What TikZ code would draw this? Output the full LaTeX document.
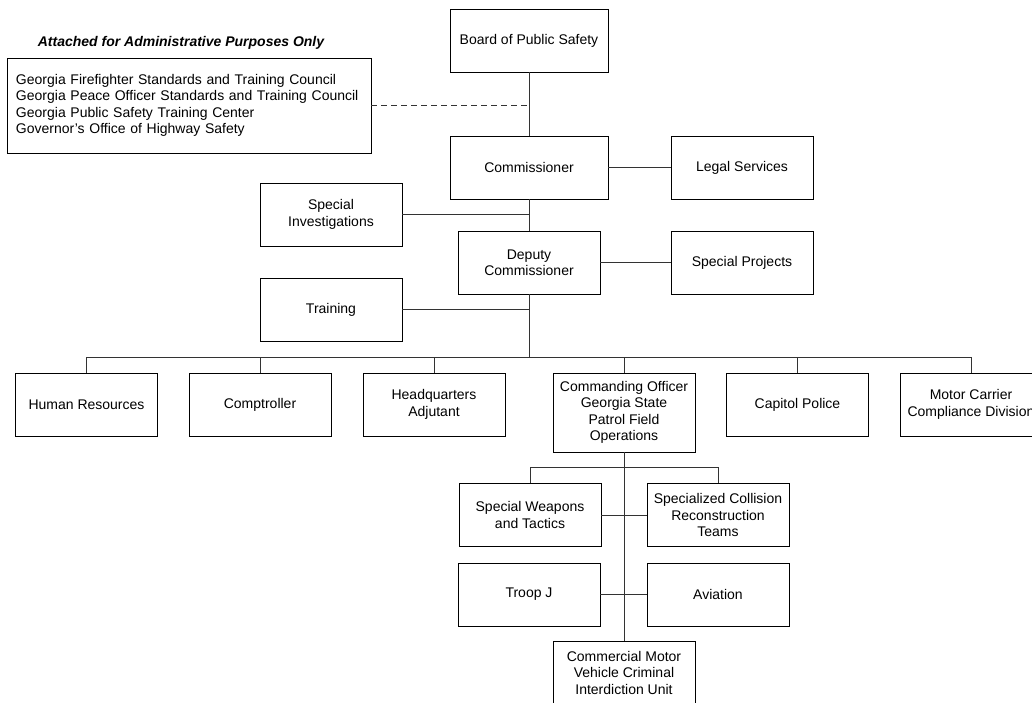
\documentclass[tikz,border=0pt]{standalone}
\usepackage{fontspec}
\setmainfont{Liberation Sans}
\usepackage{tikz}
\usetikzlibrary{positioning, calc}

\begin{document}
\begin{tikzpicture}[x=1pt, y=-1pt,
    unit/.style={draw=black, line width=0.9pt, minimum width=142pt, minimum height=63pt,
      align=center, inner sep=2pt, font=\fontsize{14}{16.5}\selectfont},
    wide/.style={unit, minimum width=158pt},
    link/.style={draw=black!80, line width=0.8pt}]
  \useasboundingbox (0,0) rectangle (1032,702);
  % Top of the chart
  \node[wide] (board) at (529,40.5) {Board of Public Safety};
  \node[wide] (comm) at (529,167.5) {Commissioner};
  \node[unit] (legal) at (742,167.5) {Legal Services};
  \node[unit] (specinv) at (331,214.5) {Special\\Investigations};
  \node[unit] (deputy) at (529,262.5) {Deputy\\Commissioner};
  \node[unit] (specproj) at (742,262.5) {Special Projects};
  \node[unit] (training) at (331,309.5) {Training};
  % Attached agencies
  \node[font=\fontsize{14}{16.5}\selectfont\bfseries\itshape] (attached) at (181,43)
    {Attached for Administrative Purposes Only};
  \node[draw=black, line width=0.9pt, minimum width=364pt, minimum height=95pt,
    inner sep=9pt, align=left, text width=346pt, font=\fontsize{14}{16.3}\selectfont]
    (admin) at (189,105.5)
    {Georgia Firefighter Standards and Training Council\\
     Georgia Peace Officer Standards and Training Council\\
     Georgia Public Safety Training Center\\
     Governor’s Office of Highway Safety};
  % Divisions
  \node[unit] (hr) at (86.5,404.5) {Human Resources};
  \node[unit] (comp) at (260,404.5) {Comptroller};
  \node[unit] (hq) at (434,404.5) {Headquarters\\Adjutant};
  \node[unit, minimum height=79pt] (co) at (624,412.5)
    {Commanding Officer\\Georgia State\\Patrol Field\\Operations};
  \node[unit] (capitol) at (797.5,404.5) {Capitol Police};
  \node[unit] (motor) at (971,404.5) {Motor Carrier\\Compliance Division};
  % Field operations units
  \node[unit] (swat) at (530,515) {Special Weapons\\and Tactics};
  \node[unit] (coll) at (718,515) {Specialized Collision\\Reconstruction\\Teams};
  \node[unit] (troop) at (529,594.5) {Troop J};
  \node[unit] (aviation) at (718,594.5) {Aviation};
  \node[unit] (cmv) at (624,672.5) {Commercial Motor\\Vehicle Criminal\\Interdiction Unit};
  \coordinate (bus) at (529,357);
  \coordinate (sub) at (624,467);
  % Connectors
  \draw[link] (board) -- (comm);
  \draw[link, dashed, dash pattern=on 6pt off 4pt] (admin.east) -- (admin.east -| board.south);
  \draw[link] (comm) -- (legal);
  \draw[link] (comm) -- (deputy);
  \draw[link] (specinv.east) -- (specinv.east -| comm.south);
  \draw[link] (deputy) -- (specproj);
  \draw[link] (deputy.south) -- (bus);
  \draw[link] (training.east) -- (training.east -| deputy.south);
  \draw[link] (hr.north |- bus) -- (motor.north |- bus);
  \foreach \n in {hr, comp, hq, co, capitol, motor}
    \draw[link] (\n.north) -- (\n.north |- bus);
  \draw[link] (co.south) -- (cmv.north);
  \draw[link] (swat.north) |- (coll.north |- sub) -- (coll.north);
  \draw[link] (swat.east) -- (coll.west);
  \draw[link] (troop.east) -- (aviation.west);
\end{tikzpicture}
\end{document}
